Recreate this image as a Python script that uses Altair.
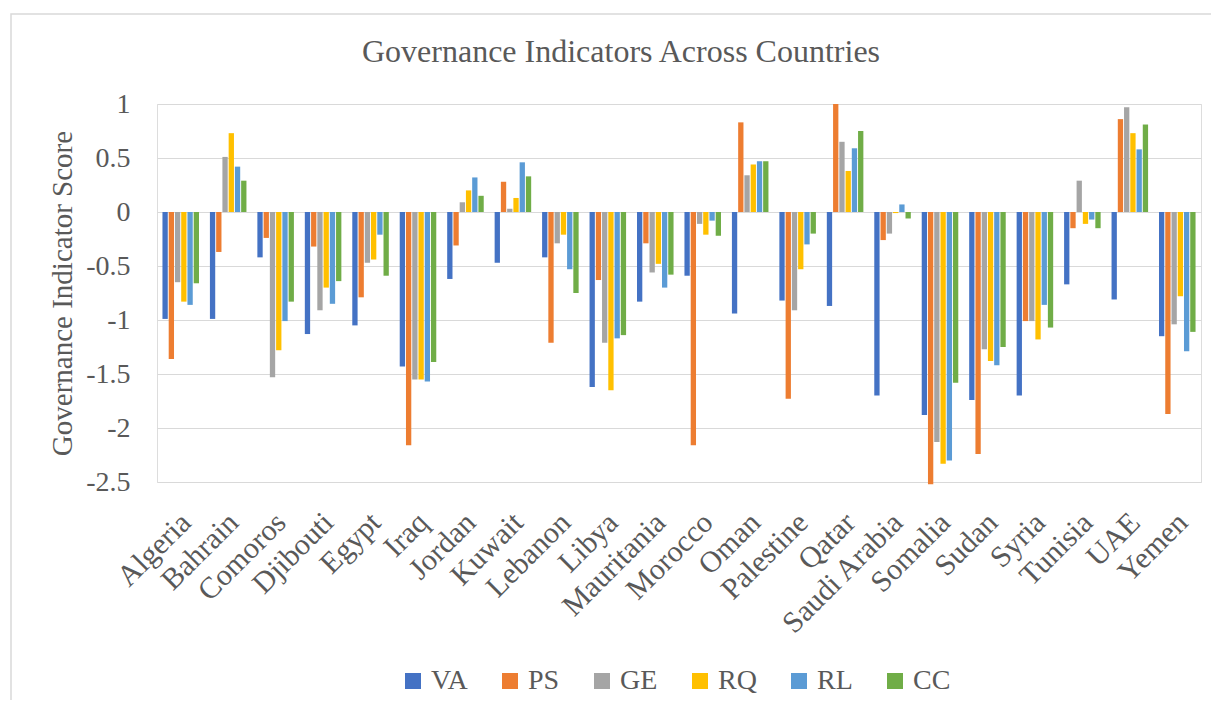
import altair as alt
import pandas as pd

countries = ["Algeria", "Bahrain", "Comoros", "Djibouti", "Egypt", "Iraq", "Jordan",
             "Kuwait", "Lebanon", "Libya", "Mauritania", "Morocco", "Oman", "Palestine",
             "Qatar", "Saudi Arabia", "Somalia", "Sudan", "Syria", "Tunisia", "UAE", "Yemen"]
indicators = ["VA", "PS", "GE", "RQ", "RL", "CC"]
colors = ["#4472C4", "#ED7D31", "#A5A5A5", "#FFC000", "#5B9BD5", "#70AD47"]

VA = [-0.99, -0.99, -0.42, -1.13, -1.05, -1.43, -0.62, -0.47, -0.42, -1.62, -0.83,
      -0.59, -0.94, -0.82, -0.87, -1.70, -1.88, -1.74, -1.70, -0.67, -0.81, -1.15]
PS = [-1.36, -0.37, -0.24, -0.32, -0.79, -2.16, -0.31, 0.28, -1.21, -0.63, -0.29,
      -2.16, 0.83, -1.73, 1.00, -0.26, -2.52, -2.24, -1.01, -0.15, 0.86, -1.87]
GE = [-0.65, 0.51, -1.53, -0.91, -0.47, -1.55, 0.09, 0.03, -0.29, -1.21, -0.56,
      -0.11, 0.34, -0.91, 0.65, -0.20, -2.13, -1.27, -1.01, 0.29, 0.97, -1.04]
RQ = [-0.83, 0.73, -1.28, -0.70, -0.44, -1.55, 0.20, 0.13, -0.21, -1.65, -0.48,
      -0.21, 0.44, -0.53, 0.38, -0.01, -2.33, -1.38, -1.18, -0.11, 0.73, -0.78]
RL = [-0.86, 0.42, -1.01, -0.85, -0.21, -1.57, 0.32, 0.46, -0.53, -1.17, -0.70,
      -0.08, 0.47, -0.30, 0.59, 0.07, -2.30, -1.42, -0.86, -0.07, 0.58, -1.29]
CC = [-0.66, 0.29, -0.83, -0.64, -0.59, -1.39, 0.15, 0.33, -0.75, -1.14, -0.58,
      -0.22, 0.47, -0.20, 0.75, -0.06, -1.58, -1.25, -1.07, -0.15, 0.81, -1.11]

y_ticks = [1, 0.5, 0, -0.5, -1, -1.5, -2, -2.5]

series = {"VA": VA, "PS": PS, "GE": GE, "RQ": RQ, "RL": RL, "CC": CC}
rows = []
for ind in indicators:
    for c, v in zip(countries, series[ind]):
        rows.append({"Country": c, "Indicator": ind, "Score": v})
df = pd.DataFrame(rows)

FONT = "Liberation Serif"
GREY = "#595959"
W, H = 1044, 378

bars = alt.Chart(df).mark_bar().encode(
    x=alt.X("Country:N", sort=countries,
            scale=alt.Scale(paddingInner=0.23, paddingOuter=0.115),
            axis=alt.Axis(title=None, labelAngle=-45, labelAlign="right", labelBaseline="top",
                          labelPadding=25, labelOffset=-5, labelFont=FONT, labelFontSize=30,
                          labelColor=GREY, domain=False, ticks=False, tickSize=0, grid=False,
                          labelLimit=300)),
    xOffset=alt.XOffset("Indicator:N", sort=indicators, scale=alt.Scale(paddingInner=0.15)),
    y=alt.Y("Score:Q", scale=alt.Scale(domain=[-2.5, 1], nice=False),
            axis=alt.Axis(title="Governance Indicator Score", values=y_ticks,
                          labelExpr="'' + datum.value", labelFont=FONT, labelFontSize=28,
                          labelColor=GREY, labelPadding=27, domain=False, ticks=False, tickSize=0,
                          grid=True, gridColor="#D9D9D9", gridWidth=1.2,
                          titleFont=FONT, titleFontSize=29, titleFontWeight="normal",
                          titleColor=GREY, titleAngle=-90, titleBaseline="middle",
                          titleAlign="center", titleX=-95, titleY=189)),
    color=alt.Color("Indicator:N", sort=indicators,
                    scale=alt.Scale(domain=indicators, range=colors),
                    legend=alt.Legend(orient="none", legendX=242, legendY=563,
                                      direction="horizontal", columns=6, title=None,
                                      gridAlign="each",
                                      symbolType="square", symbolSize=256, symbolStrokeWidth=0,
                                      labelFont=FONT, labelFontSize=28, labelColor=GREY,
                                      labelOffset=4, columnPadding=28, padding=0)),
)

frame = alt.Chart(pd.DataFrame({"k": [0]})).mark_rect(
    filled=False, stroke="#D9D9D9", strokeWidth=1.5
).encode(x=alt.value(-146), x2=alt.value(W + 60), y=alt.value(-90), y2=alt.value(H + 300))

chart = alt.layer(frame, bars).properties(
    width=W, height=H,
    autosize="none",
    padding={"left": 149, "top": 96, "right": 10, "bottom": 218},
    title=alt.TitleParams("Governance Indicators Across Countries", font=FONT, fontSize=32,
                          fontWeight="normal", color=GREY, anchor="middle", dx=-58,
                          offset=41, dy=122, baseline="alphabetic"),
).configure_view(stroke=None).configure(background="white")

chart.save("out.html", embed_options={"renderer": "svg", "actions": False})
